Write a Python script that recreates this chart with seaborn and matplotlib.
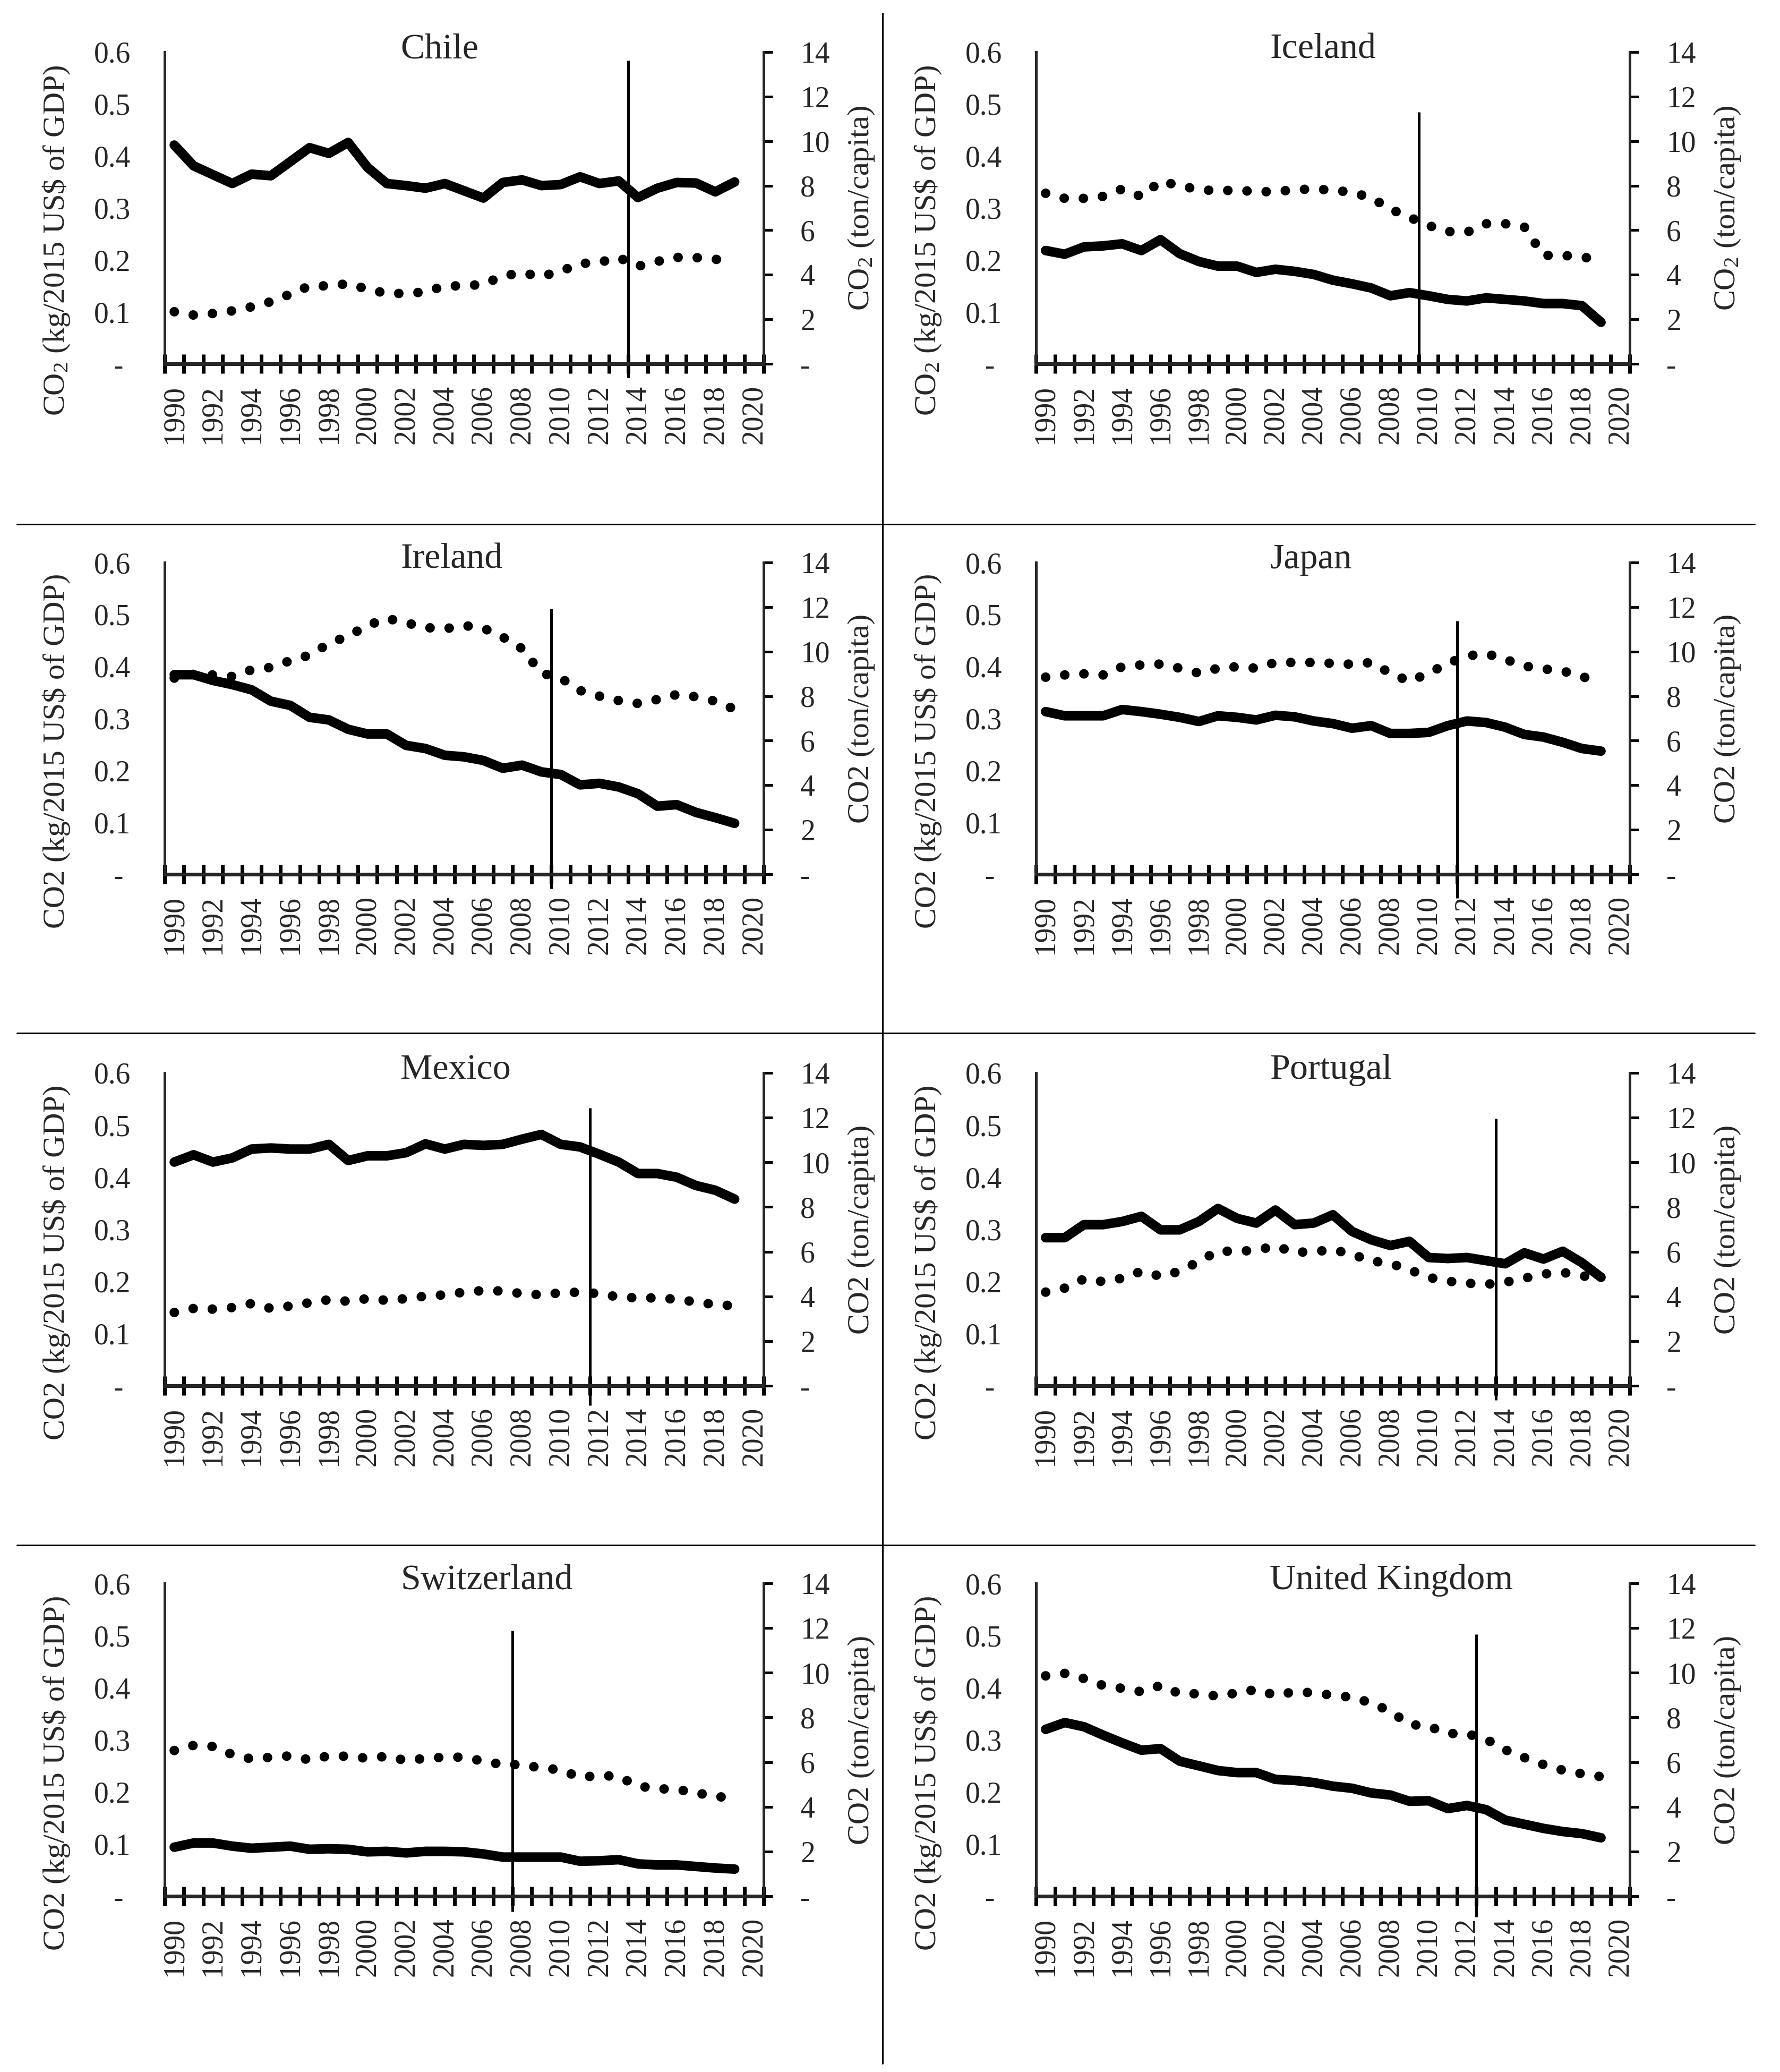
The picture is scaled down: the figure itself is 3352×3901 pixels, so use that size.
import numpy as np
import matplotlib
matplotlib.use("Agg")
import matplotlib.pyplot as plt
from matplotlib.lines import Line2D
import seaborn as sns

# data (1990-2019)
years = list(range(1990, 2020))
countries = ["Chile", "Iceland", "Ireland", "Japan",
             "Mexico", "Portugal", "Switzerland", "United Kingdom"]

# CO2 intensity, kg per 2015 US$ of GDP (solid line, left axis)
chile_int = [0.421, 0.381, 0.364, 0.347, 0.365, 0.362, 0.389, 0.416, 0.405, 0.426, 0.378, 0.347, 0.343, 0.338, 0.347,
             0.333, 0.319, 0.349, 0.354, 0.343, 0.345, 0.360, 0.347, 0.352, 0.320, 0.338, 0.349, 0.348, 0.331, 0.350]
iceland_int = [0.218, 0.211, 0.225, 0.227, 0.231, 0.218, 0.239, 0.212, 0.197, 0.188, 0.188, 0.176, 0.182, 0.178, 0.172,
               0.161, 0.154, 0.146, 0.131, 0.137, 0.131, 0.124, 0.121, 0.127, 0.124, 0.121, 0.116, 0.116, 0.112, 0.080]
ireland_int = [0.384, 0.384, 0.373, 0.365, 0.355, 0.333, 0.325, 0.302, 0.297, 0.279, 0.270, 0.270, 0.248, 0.242, 0.229,
               0.226, 0.219, 0.204, 0.210, 0.197, 0.192, 0.172, 0.175, 0.168, 0.155, 0.131, 0.134, 0.119, 0.109, 0.098]
japan_int = [0.313, 0.305, 0.305, 0.305, 0.317, 0.313, 0.308, 0.302, 0.294, 0.305, 0.302, 0.297, 0.306, 0.303, 0.295,
             0.290, 0.281, 0.286, 0.271, 0.271, 0.273, 0.286, 0.295, 0.292, 0.283, 0.269, 0.264, 0.254, 0.242, 0.237]
mexico_int = [0.429, 0.443, 0.429, 0.437, 0.454, 0.456, 0.454, 0.454, 0.463, 0.432, 0.441, 0.441, 0.447, 0.464, 0.454,
              0.463, 0.461, 0.463, 0.473, 0.482, 0.463, 0.458, 0.444, 0.429, 0.407, 0.407, 0.400, 0.384, 0.375, 0.358]
portugal_int = [0.284, 0.284, 0.309, 0.309, 0.315, 0.325, 0.299, 0.299, 0.315, 0.340, 0.321, 0.312, 0.337, 0.309, 0.312,
                0.328, 0.296, 0.280, 0.269, 0.277, 0.246, 0.244, 0.246, 0.240, 0.234, 0.255, 0.243, 0.258, 0.236, 0.208]
swiss_int = [0.094, 0.102, 0.102, 0.096, 0.092, 0.094, 0.096, 0.090, 0.091, 0.090, 0.085, 0.086, 0.083, 0.086, 0.086,
             0.085, 0.081, 0.075, 0.075, 0.075, 0.075, 0.067, 0.068, 0.070, 0.062, 0.060, 0.060, 0.057, 0.054, 0.052]
uk_int = [0.320, 0.333, 0.325, 0.309, 0.294, 0.280, 0.283, 0.259, 0.250, 0.241, 0.237, 0.237, 0.224, 0.222, 0.218,
          0.211, 0.207, 0.198, 0.194, 0.182, 0.183, 0.168, 0.174, 0.166, 0.146, 0.138, 0.130, 0.124, 0.120, 0.112]

# CO2 per capita, ton (dotted line, right axis)
chile_pc = [2.34, 2.19, 2.26, 2.38, 2.56, 2.79, 3.13, 3.50, 3.50, 3.60, 3.35, 3.16, 3.16, 3.23, 3.50,
            3.50, 3.57, 3.95, 4.08, 3.93, 4.16, 4.50, 4.56, 4.77, 4.38, 4.60, 4.78, 4.77, 4.69, 4.67]
iceland_pc = [7.66, 7.43, 7.43, 7.52, 7.85, 7.51, 8.20, 8.00, 7.82, 7.77, 7.80, 7.73, 7.73, 7.82, 7.85,
              7.80, 7.70, 7.46, 6.95, 6.58, 6.21, 5.94, 5.91, 6.29, 6.29, 6.14, 4.87, 4.87, 4.80, 4.65]
ireland_pc = [8.81, 8.98, 8.95, 8.88, 9.18, 9.29, 9.59, 9.84, 10.36, 10.70, 11.17, 11.49, 11.29, 11.08, 11.02,
              11.17, 11.05, 10.65, 10.13, 9.03, 8.81, 8.25, 8.00, 7.80, 7.67, 7.85, 8.07, 7.97, 7.77, 7.41]
japan_pc = [8.85, 8.95, 9.00, 8.95, 9.32, 9.40, 9.44, 9.25, 9.03, 9.25, 9.32, 9.25, 9.51, 9.51, 9.51,
            9.47, 9.43, 9.51, 9.03, 8.66, 9.03, 9.47, 9.80, 9.91, 9.65, 9.35, 9.22, 9.13, 8.88, 8.62]
mexico_pc = [3.28, 3.46, 3.43, 3.50, 3.68, 3.46, 3.57, 3.72, 3.85, 3.78, 3.90, 3.82, 3.90, 4.01, 4.07,
             4.19, 4.26, 4.24, 4.12, 4.07, 4.16, 4.19, 4.12, 3.97, 3.93, 3.93, 3.87, 3.75, 3.63, 3.58]
portugal_pc = [4.19, 4.37, 4.78, 4.66, 4.81, 5.12, 4.90, 5.12, 5.56, 6.03, 6.01, 6.07, 6.25, 5.97, 6.00,
               6.09, 5.88, 5.59, 5.47, 5.19, 4.85, 4.68, 4.59, 4.54, 4.63, 4.81, 5.00, 5.07, 4.93, 4.75]
swiss_pc = [6.52, 6.75, 6.70, 6.34, 6.14, 6.22, 6.28, 6.10, 6.28, 6.26, 6.17, 6.26, 6.07, 6.17, 6.22,
            6.22, 6.04, 5.89, 5.89, 5.73, 5.66, 5.31, 5.41, 5.35, 4.93, 4.81, 4.78, 4.63, 4.46, 4.40]
uk_pc = [9.86, 9.97, 9.74, 9.43, 9.30, 9.15, 9.43, 9.06, 9.06, 8.95, 9.10, 9.25, 8.99, 9.15, 9.10,
         8.99, 8.90, 8.65, 8.27, 7.69, 7.60, 7.28, 7.27, 7.02, 6.55, 6.20, 5.89, 5.64, 5.48, 5.35]

intensity = [chile_int, iceland_int, ireland_int, japan_int, mexico_int, portugal_int, swiss_int, uk_int]
per_capita = [chile_pc, iceland_pc, ireland_pc, japan_pc, mexico_pc, portugal_pc, swiss_pc, uk_pc]

# structural break marker (between two years) and its vertical extent on the left scale
break_pos = [2013.5, 2009.5, 2009.5, 2011.5, 2011.5, 2013.5, 2007.5, 2012.5]
break_top = [0.584, 0.485, 0.511, 0.488, 0.533, 0.512, 0.509, 0.502]
break_bottom = [-0.027, 0.0, -0.028, -0.046, -0.038, -0.028, -0.030, -0.040]

left_ticks = [0, 0.1, 0.2, 0.3, 0.4, 0.5, 0.6]
left_labels = ["- ", "0.1", "0.2", "0.3", "0.4", "0.5", "0.6"]
right_ticks = [0, 2, 4, 6, 8, 10, 12, 14]
right_labels = ["-", "2", "4", "6", "8", "10", "12", "14"]
xlabel_years = list(range(1990, 2021, 2))

sns.set_style("white")
plt.rcParams["font.family"] = ["Liberation Serif", "DejaVu Serif"]
plt.rcParams["mathtext.fontset"] = "custom"
plt.rcParams["mathtext.rm"] = "Liberation Serif"
plt.rcParams["mathtext.it"] = "Liberation Serif:italic"
plt.rcParams["mathtext.bf"] = "Liberation Serif:bold"

W, H, DPI = 3352, 3901, 200
PT = 72.0 / DPI
fig = plt.figure(figsize=(W / DPI, H / DPI), dpi=DPI)
fig.patch.set_facecolor("white")

col_x = [(310, 1438), (1951, 3069)]
row_y = [(98, 685), (1059, 1646), (2020, 2609), (2981, 3570)]

for i, name in enumerate(countries):
    x0, x1 = col_x[i % 2]
    y0, y1 = row_y[i // 2]
    ax = fig.add_axes([x0 / W, 1 - y1 / H, (x1 - x0) / W, (y1 - y0) / H])
    ax2 = ax.twinx()

    sns.lineplot(x=years, y=intensity[i], ax=ax, color="black", lw=18 * PT,
                 solid_capstyle="round", solid_joinstyle="round")
    sns.lineplot(x=years, y=per_capita[i], ax=ax2, color="black", lw=18 * PT,
                 linestyle=(0, (0.01, 2.0)), dash_capstyle="round")
    ax.plot([break_pos[i], break_pos[i]], [break_bottom[i], break_top[i]],
            color="black", lw=5 * PT, clip_on=False, solid_capstyle="butt")

    ax.set_xlim(1989.5, 2020.5)
    ax.set_ylim(0, 0.6)
    ax2.set_ylim(0, 14)
    ax.set_xlabel("")
    ax.set_ylabel("")
    ax2.set_ylabel("")

    for s in ["top", "right"]:
        ax.spines[s].set_visible(False)
    ax.spines["left"].set_linewidth(5 * PT)
    ax.spines["bottom"].set_linewidth(7 * PT)
    for s in ["top", "left", "bottom"]:
        ax2.spines[s].set_visible(False)
    ax2.spines["right"].set_linewidth(5 * PT)

    ax.set_xticks(np.arange(1989.5, 2021.0, 1.0))
    ax.tick_params(axis="x", which="major", direction="inout", length=36 * PT,
                   width=7 * PT, color="black", labelbottom=False, bottom=True)
    ax.set_xticks(xlabel_years, minor=True)
    ax.set_xticklabels([str(y) for y in xlabel_years], minor=True)
    ax.tick_params(axis="x", which="minor", length=0, pad=40 * PT,
                   labelsize=20, labelrotation=90, labelbottom=True)

    ax.set_yticks(left_ticks)
    ax.set_yticklabels(left_labels)
    ax.tick_params(axis="y", length=0, pad=64 * PT, labelsize=20, left=False)
    ax2.set_yticks(right_ticks)
    ax2.set_yticklabels(right_labels)
    ax2.tick_params(axis="y", direction="out", length=17 * PT, width=5 * PT,
                    pad=52 * PT, labelsize=20, color="black")

    ax.text(0.394, 1 - 11 / (y1 - y0), name, transform=ax.transAxes,
            ha="left", va="baseline", fontsize=24.5)

    if i < 2:
        lab_l = r"CO$_\mathrm{2}$ (kg/2015 US\$ of GDP)"
        lab_r = r"CO$_\mathrm{2}$ (ton/capita)"
    else:
        lab_l = "CO2 (kg/2015 US$ of GDP)"
        lab_r = "CO2 (ton/capita)"
    fig.text((x0 - 204) / W, 1 - (y1 - 0.395 * (y1 - y0)) / H, lab_l,
             rotation=90, ha="center", va="center", fontsize=21)
    fig.text((x1 + 184) / W, 1 - (y1 - 0.5 * (y1 - y0)) / H, lab_r,
             rotation=90, ha="center", va="center", fontsize=21)

# panel dividers
fig.add_artist(Line2D([1662 / W, 1662 / W], [1 - 25 / H, 1 - 3885 / H],
                      color="black", lw=3 * PT))
for yy in [987, 1945, 2909]:
    fig.add_artist(Line2D([32 / W, 3304 / W], [1 - yy / H, 1 - yy / H],
                          color="black", lw=3 * PT))

fig.savefig("out.png", dpi=DPI, facecolor="white")
